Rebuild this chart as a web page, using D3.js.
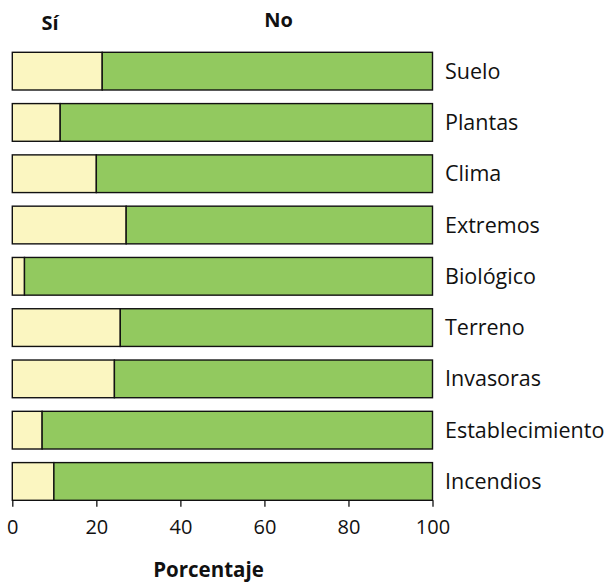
<!DOCTYPE html>
<html><head><meta charset="utf-8">
<script src="https://cdn.jsdelivr.net/npm/d3@7"></script>
<style>body{margin:0;background:#fff}svg{display:block}text{font-family:"Open Sans",sans-serif;fill:#111}</style>
</head><body><svg id="c" width="607" height="583"></svg>
<script>
const categories = ["Suelo","Plantas","Clima","Extremos","Biológico","Terreno","Invasoras","Establecimiento","Incendios"];
const siValues = [21.4, 11.4, 20.0, 27.1, 2.9, 25.7, 24.3, 7.1, 9.9];
const noValues = [78.6, 88.6, 80.0, 72.9, 97.1, 74.3, 75.7, 92.9, 90.1];
const xTicks = [0, 20, 40, 60, 80, 100];
const seriesNames = ["Sí", "No"];
const xTitle = "Porcentaje";
const colors = {"Sí": "#FBF6C1", "No": "#92C95F"};

const svg = d3.select("#c");
const x = d3.scaleLinear().domain([0, 100]).range([12.3, 432.5]);
const y = d3.scaleBand().domain(categories).range([52.3, 500.3]).paddingInner(0.265).paddingOuter(0);

const rows = categories.map((c, i) => ({cat: c, "Sí": siValues[i], "No": noValues[i]}));
const stack = d3.stack().keys(seriesNames)(rows);

svg.append("g").selectAll("g").data(stack).join("g")
  .attr("fill", d => colors[d.key])
  .selectAll("rect").data(d => d).join("rect")
  .attr("x", d => x(d[0])).attr("width", d => x(d[1]) - x(d[0]))
  .attr("y", d => y(d.data.cat)).attr("height", y.bandwidth())
  .attr("stroke", "#111").attr("stroke-width", 1.4);

// category labels on the right
svg.append("g").selectAll("text").data(categories).join("text")
  .attr("x", 445).attr("y", d => y(d) + y.bandwidth() / 2)
  .attr("dy", "0.35em").attr("font-size", 21.5).text(d => d);

// x axis
const ax = svg.append("g").attr("transform", `translate(0,${y(categories[categories.length-1]) + y.bandwidth()})`)
  .call(d3.axisBottom(x).tickValues(xTicks).tickSize(6.5).tickPadding(13).tickFormat(d3.format("d")));
ax.select(".domain").remove();
ax.selectAll("line").attr("stroke", "#111").attr("stroke-width", 1.3);
ax.selectAll("text").attr("font-size", 20).attr("font-family", "'Open Sans',sans-serif").attr("fill", "#111");

// header labels
svg.append("text").attr("x", 50).attr("y", 30).attr("text-anchor", "middle")
  .attr("font-size", 20).attr("font-weight", "bold").text(seriesNames[0]);
svg.append("text").attr("x", 278.5).attr("y", 26.7).attr("text-anchor", "middle")
  .attr("font-size", 20).attr("font-weight", "bold").text(seriesNames[1]);

svg.append("text").attr("x", 208.5).attr("y", 577.3).attr("text-anchor", "middle")
  .attr("font-size", 20.5).attr("font-weight", "bold").text(xTitle);
</script></body></html>
